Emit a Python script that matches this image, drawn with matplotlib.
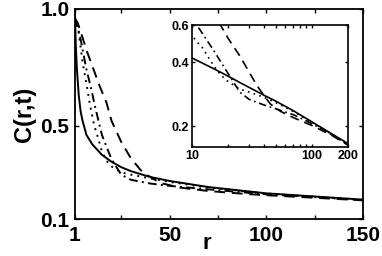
import matplotlib
matplotlib.use("Agg")
import matplotlib.pyplot as plt
from matplotlib.ticker import FixedLocator, NullFormatter, FixedFormatter

plt.rcParams['font.family'] = ['Liberation Sans', 'DejaVu Sans']

# ---- data ----
r_solid = [1, 1.5, 2, 3, 4, 5, 7, 10, 15, 20, 25, 30, 40, 50, 70, 100, 150, 200]
c_solid = [1.0, 0.84, 0.75, 0.63, 0.56, 0.52, 0.46, 0.42, 0.375, 0.345, 0.322, 0.305, 0.28, 0.263, 0.237, 0.21, 0.183, 0.166]

r_dot = [1, 2.5, 5, 7, 8.6, 11, 12.2, 15, 17.3, 20, 25, 30, 40, 50, 70, 100, 150, 200]
c_dot = [0.96, 0.93, 0.77, 0.68, 0.6, 0.5, 0.47, 0.39, 0.35, 0.325, 0.3, 0.29, 0.274, 0.259, 0.235, 0.209, 0.182, 0.165]

r_dashdot = [1, 3.5, 7, 9.7, 11.2, 15, 20, 25, 30, 40, 50, 70, 100, 150, 200]
c_dashdot = [0.96, 0.89, 0.74, 0.65, 0.59, 0.46, 0.355, 0.29, 0.268, 0.252, 0.242, 0.227, 0.206, 0.181, 0.164]

r_dash = [1, 2.5, 7.6, 13.8, 17.3, 20, 25, 30, 35, 38, 45, 55, 70, 90, 100, 150, 200]
c_dash = [0.96, 0.94, 0.81, 0.67, 0.6, 0.52, 0.43, 0.36, 0.31, 0.29, 0.255, 0.235, 0.22, 0.207, 0.202, 0.18, 0.163]

main_xticks = [1, 50, 100, 150]
main_xminor = [25, 75, 125]
main_yticks = [0.1, 0.5, 1.0]
main_ylabels = ['0.1', '0.5', '1.0']
inset_xticks = [10, 100, 200]
inset_xlabels = ['10', '100', '200']
inset_xminor = [20, 30, 40, 50, 60, 70, 80, 90]
inset_yticks = [0.2, 0.4, 0.6]
inset_ylabels = ['0.2', '0.4', '0.6']

series = [
    (r_solid, c_solid, '-'),
    (r_dot, c_dot, (0, (1.0, 2.6))),
    (r_dashdot, c_dashdot, (0, (4.5, 2.2, 1.0, 2.2))),
    (r_dash, c_dash, (0, (5.5, 3.5))),
]

fig = plt.figure(figsize=(3.82, 2.56), dpi=100)
ax = fig.add_axes([0.196, 0.1445, 0.754, 0.8205])
for rr, cc, ls in series:
    ax.plot(rr, cc, color='black', linestyle=ls, linewidth=1.4)
ax.set_xlim(1, 150)
ax.set_ylim(0.1, 1.0)
ax.xaxis.set_major_locator(FixedLocator(main_xticks))
ax.xaxis.set_minor_locator(FixedLocator(main_xminor))
ax.set_xticklabels([str(v) for v in main_xticks])
ax.yaxis.set_major_locator(FixedLocator(main_yticks))
ax.set_yticklabels(main_ylabels)
ax.tick_params(which='both', direction='in', top=True, right=True, length=3, width=1.0)
ax.tick_params(axis='both', labelsize=15)
ax.tick_params(axis='x', pad=5)
ax.tick_params(axis='y', pad=4)
for lab in ax.get_xticklabels() + ax.get_yticklabels():
    lab.set_fontweight('bold')
for s in ax.spines.values():
    s.set_linewidth(1.3)
ax.set_xlabel('r', fontsize=16, fontweight='bold')
ax.xaxis.set_label_coords(0.458, -0.165)
ax.xaxis.label.set_va('bottom')
ax.set_ylabel('C(r,t)', fontsize=17, fontweight='bold', labelpad=3)

ins = fig.add_axes([0.5026, 0.426, 0.4084, 0.476])
for rr, cc, ls in series:
    ins.plot(rr, cc, color='black', linestyle=ls, linewidth=1.2)
ins.set_xscale('log')
ins.set_yscale('log')
ins.set_xlim(10, 200)
ins.set_ylim(0.16, 0.6)
ins.xaxis.set_major_locator(FixedLocator(inset_xticks))
ins.xaxis.set_major_formatter(FixedFormatter(inset_xlabels))
ins.xaxis.set_minor_locator(FixedLocator(inset_xminor))
ins.xaxis.set_minor_formatter(NullFormatter())
ins.yaxis.set_major_locator(FixedLocator(inset_yticks))
ins.yaxis.set_major_formatter(FixedFormatter(inset_ylabels))
ins.yaxis.set_minor_locator(FixedLocator([]))
ins.yaxis.set_minor_formatter(NullFormatter())
ins.tick_params(which='both', direction='in', top=True, right=True, length=2.5, width=1.0)
ins.tick_params(axis='both', labelsize=9, pad=2)
for lab in ins.get_xticklabels() + ins.get_yticklabels():
    lab.set_fontweight('bold')
for s in ins.spines.values():
    s.set_linewidth(1.2)

fig.savefig('out.png', dpi=100)
